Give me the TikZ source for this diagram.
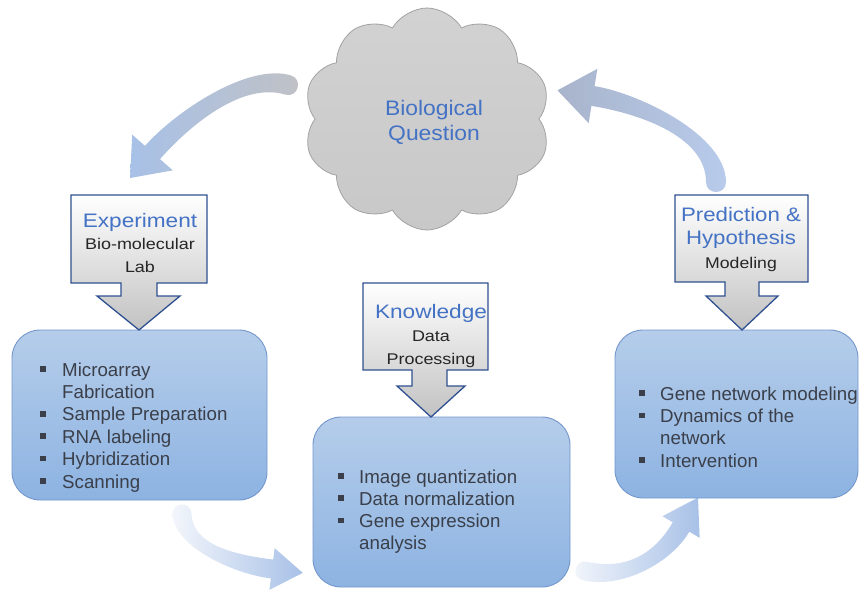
\documentclass[tikz,border=0pt]{standalone}
\usepackage{fontspec}
\setmainfont{Liberation Sans}
\usetikzlibrary{calc,shapes.symbols}
\definecolor{titleblue}{HTML}{4472C4}
\definecolor{subtext}{HTML}{262626}
\definecolor{listtext}{HTML}{3A3F4A}
\definecolor{boxtop}{HTML}{B5CDEA}
\definecolor{boxbot}{HTML}{8DB3E2}
\definecolor{boxline}{HTML}{7397CB}
\definecolor{calloutline}{HTML}{2F5191}
\definecolor{cloudfill}{HTML}{C8C8C8}
\definecolor{cloudtop}{HTML}{D2D2D2}
\definecolor{cloudline}{HTML}{A2A2A2}
\definecolor{arrblue}{HTML}{A8C1E7}
\definecolor{arrgray}{HTML}{C0C1C5}
\definecolor{arrslate}{HTML}{A8B4CB}
\definecolor{arrlight}{HTML}{F3F6FB}
\definecolor{arrmid}{HTML}{B8CBEB}
\newcommand\sqb{\raisebox{4.3pt}{\rule{5.5pt}{5.5pt}}}
% curved block arrow: P0 P1 P2 P3 (bezier centreline), half width, head half width, head length, shading
\newcommand\bigcurve[8]{%
  \pgfmathsetmacro\capk{1.333*#5}%
  \path (#1) coordinate (p0) (#2) coordinate (p1) (#3) coordinate (p2) (#4) coordinate (p3);
  \path ($(p0)!#5pt!90:(p1)$) coordinate (a0) ($(p0)!#5pt!-90:(p1)$) coordinate (b0)
        ($(p1)!#5pt!-90:(p0)$) coordinate (a1) ($(p1)!#5pt!90:(p0)$) coordinate (b1)
        ($(p2)!#5pt!90:(p3)$) coordinate (a2) ($(p2)!#5pt!-90:(p3)$) coordinate (b2)
        ($(p3)!#5pt!-90:(p2)$) coordinate (a3) ($(p3)!#5pt!90:(p2)$) coordinate (b3)
        ($(p3)!#6pt!-90:(p2)$) coordinate (ha) ($(p3)!#6pt!90:(p2)$) coordinate (hb)
        ($(p3)!#7pt!180:(p2)$) coordinate (tip)
        ($(a0)!\capk pt!-90:(p0)$) coordinate (ak) ($(b0)!\capk pt!90:(p0)$) coordinate (bk);
  \shade[#8] (a0) .. controls (a1) and (a2) .. (a3) -- (ha) -- (tip) -- (hb) -- (b3)
     .. controls (b2) and (b1) .. (b0) .. controls (bk) and (ak) .. (a0) -- cycle;
}
\tikzset{
  bluebox/.style={draw=boxline, line width=0.9pt, top color=boxtop, bottom color=boxbot,
    rounded corners=28pt, inner sep=0pt},
  callout/.style={draw=calloutline, line width=1.3pt, line join=miter,
    top color=white, middle color=white!94!black, bottom color=white!76!black},
  listnode/.style={text=listtext, inner sep=0pt, anchor=base west},
  calltext/.style={text=subtext, inner sep=0pt, anchor=base},
}
\begin{document}
\begin{tikzpicture}[x=1pt,y=-1pt]
\useasboundingbox (0,0) rectangle (861,594);

% curved arrows
\bigcurve{288,85}{245,72}{182,119}{152.5,152.5}{10}{27}{34}{left color=arrblue, right color=arrgray}
\bigcurve{716,182}{716,135}{637,103}{593,96}{10}{27.5}{36}{left color=arrslate, right color=arrmid}
\bigcurve{182,514}{183,545}{232,564}{272,569}{9.5}{21}{31}{left color=arrlight, right color=arrblue}
\bigcurve{585,571}{625,580}{663.5,557.3}{681,527}{9.5}{21.5}{34}{left color=arrlight, right color=arrblue}

% cloud
\node[cloud, cloud puffs=10, cloud puff arc=120, aspect=1.1, minimum width=247pt,
  minimum height=222pt, inner sep=0pt, draw=cloudline, line width=0.8pt,
  top color=cloudtop, bottom color=cloudfill] (cloud) at (427,119) {};
\node[text=titleblue, inner sep=0pt, anchor=base] (bq) at (434,115)
  {\scalebox{1.09}[1]{\fontsize{21}{25.5}\selectfont\begin{tabular}[t]{@{}c@{}}Biological\\ Question\end{tabular}}};

% blue boxes
\node[bluebox, minimum width=255pt, minimum height=170pt] (exbox) at (139.5,415) {};
\node[bluebox, minimum width=257pt, minimum height=170pt] (knbox) at (441.5,502) {};
\node[bluebox, minimum width=243pt, minimum height=168pt] (prbox) at (736.5,414) {};

\node[listnode] (exlist) at (40,376) {\fontsize{18.7}{22.4}\selectfont
  \begin{tabular}[t]{@{}l@{\hspace{16.5pt}}l@{}}
  \sqb & Microarray\\ & Fabrication\\ \sqb & Sample Preparation\\
  \sqb & RNA labeling\\ \sqb & Hybridization\\ \sqb & Scanning
  \end{tabular}};
\node[listnode] (knlist) at (338,483) {\fontsize{18.7}{22.2}\selectfont
  \begin{tabular}[t]{@{}l@{\hspace{15.5pt}}l@{}}
  \sqb & Image quantization\\ \sqb & Data normalization\\
  \sqb & Gene expression\\ & analysis
  \end{tabular}};
\node[listnode] (prlist) at (639,400) {\fontsize{18.7}{22.4}\selectfont
  \begin{tabular}[t]{@{}l@{\hspace{15.5pt}}l@{}}
  \sqb & Gene network modeling\\ \sqb & Dynamics of the\\
  & network\\ \sqb & Intervention
  \end{tabular}};

% callouts
\shade[callout] (71,195) -- (207,195) -- (207,283) -- (157,283) -- (157,296) -- (180,296)
  -- (139,330) -- (97,296) -- (121,296) -- (121,283) -- (71,283) -- cycle;
\shade[callout] (675,195) -- (808,195) -- (808,282) -- (759,282) -- (759,296) -- (778,296)
  -- (742,330) -- (706,296) -- (725,296) -- (725,282) -- (675,282) -- cycle;
\shade[callout] (363,283) -- (488,283) -- (488,370) -- (447,370) -- (447,386) -- (465,386)
  -- (431,417) -- (397,386) -- (412,386) -- (412,370) -- (363,370) -- cycle;

\node[calltext] (exT) at (140,227) {\scalebox{1.16}[1]{\fontsize{15.5}{22.5}\selectfont
  \begin{tabular}[t]{@{}c@{}}{\fontsize{19.5}{22.5}\selectfont\color{titleblue}Experiment}\\
  Bio-molecular\\ Lab\end{tabular}}};
\node[calltext] (prT) at (741,221) {\scalebox{1.14}[1]{\fontsize{15.5}{23.5}\selectfont
  \begin{tabular}[t]{@{}c@{}}{\fontsize{19.5}{23.5}\selectfont\color{titleblue}Prediction \&}\\
  {\fontsize{19.5}{23.5}\selectfont\color{titleblue}Hypothesis}\\ Modeling\end{tabular}}};
\node[calltext] (knT) at (431,318) {\scalebox{1.16}[1]{\fontsize{15.5}{23}\selectfont
  \begin{tabular}[t]{@{}c@{}}{\fontsize{19.5}{23}\selectfont\color{titleblue}Knowledge}\\
  Data\\ Processing\end{tabular}}};
\end{tikzpicture}
\end{document}
